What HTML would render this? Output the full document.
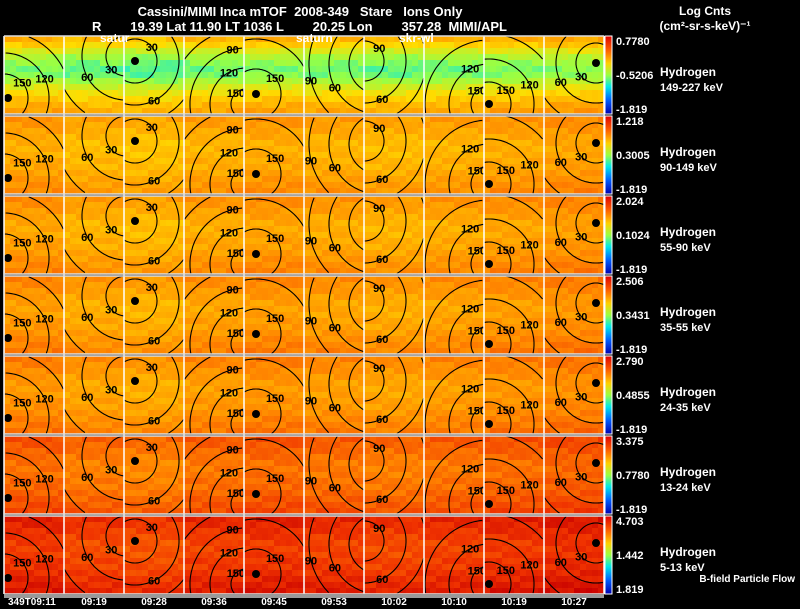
<!DOCTYPE html>
<html><head><meta charset="utf-8"><style>
html,body{margin:0;padding:0;background:#000;width:800px;height:609px;overflow:hidden}
svg{display:block}
svg text{font-family:"Liberation Sans",sans-serif;font-weight:bold;white-space:pre}
</style></head><body>
<svg id="chart" width="800" height="609" xmlns="http://www.w3.org/2000/svg">
<defs>
<linearGradient id="cbar" x1="0" y1="0" x2="0" y2="1">
<stop offset="0" stop-color="#e00000"/><stop offset="0.2" stop-color="#ff6a00"/><stop offset="0.35" stop-color="#ffd000"/><stop offset="0.5" stop-color="#9cff40"/><stop offset="0.65" stop-color="#00e8e8"/><stop offset="0.82" stop-color="#0060ff"/><stop offset="1" stop-color="#0000b0"/>
</linearGradient>
</defs>
<g id="grid"></g>
<g fill="#fff" font-size="13">
<text x="300" y="16" text-anchor="middle">Cassini/MIMI Inca mTOF  2008-349   Stare   Ions Only</text>
<text x="92" y="31">R        19.39 Lat 11.90 LT 1036 L        20.25 Lon        357.28  MIMI/APL</text>
<text x="705" y="15" text-anchor="middle" font-size="12">Log Cnts</text>
<text x="705" y="30" text-anchor="middle" font-size="12">(cm²-sr-s-keV)⁻¹</text>
<text x="100" y="42" font-size="12">satur</text>
<text x="296" y="42" font-size="12">saturn</text>
<text x="399" y="42" font-size="12">skr-wl</text>
<text x="795" y="582" font-size="10" text-anchor="end">B-field Particle Flow</text>
</g>
</svg>
<script>
const rowTops=[36,116,196,276,356,436,516];
const colTimes=["349T09:11","09:19","09:28","09:36","09:45","09:53","10:02","10:10","10:19","10:27"];
const cbTop=["0.7780","1.218","2.024","2.506","2.790","3.375","4.703"];
const cbMid=["-0.5206","0.3005","0.1024","0.3431","0.4855","0.7780","1.442"];
const cbBot=["-1.819","-1.819","-1.819","-1.819","-1.819","-1.819","1.819"];
const energies=["149-227 keV","90-149 keV","55-90 keV","35-55 keV","24-35 keV","13-24 keV","5-13 keV"];
const rowBase=[0.0,0.79,0.8,0.81,0.82,0.87,0.93];
const row0Profile=[0.77,0.73,0.67,0.62,0.59,0.57,0.58,0.62,0.67,0.71,0.74,0.77,0.79];
const rowProfile=[0.02,0.01,0,-0.01,-0.02,-0.02,-0.02,-0.01,-0.01,0,0.01,0.02,0.03];
const colOffset=[0.01,-0.01,-0.02,0,0.01,0,-0.01,0,0.01,0.02];
const texture=[0.02,-0.03,0.01,0.03,-0.02,0,0.02,-0.03,0.02,-0.01,0.03,-0.02,0.01];
const contours=[
 [0,62,[24,45,66],["150","120","90"]],
 [62,20,[20,44,70],["30","60","90"]],
 [11,25,[22,44,62],["30","60","90"]],
 [62,68,[15,36,56,76],["150","120","90","60"]],
 [12,58,[25,55],["150","120"]],
 [75,28,[30,50,70],["90","60","90"]],
 [0,25,[20,42,62],["90","60","90"]],
 [65,68,[18,40,64],["150","120","90"]],
 [5,68,[22,45,70],["150","120","90"]],
 [52,27,[20,40,62],["30","60","90"]]
];
const NS="http://www.w3.org/2000/svg";
const g=document.getElementById('grid');
const X0=4,PW=60,PH=78,NX=10,NY=13;
function color(t){
 const s=[[0,[0,0,176]],[0.35,[0,96,255]],[0.5,[0,232,232]],[0.6,[150,255,70]],[0.72,[255,220,0]],[0.84,[255,130,0]],[0.93,[240,50,0]],[1,[200,0,0]]];
 t=Math.max(0,Math.min(1,t));
 for(let i=1;i<s.length;i++){if(t<=s[i][0]){const a=s[i-1],b=s[i],f=(t-a[0])/(b[0]-a[0]);return 'rgb('+a[1].map((v,k)=>Math.round(v+(b[1][k]-v)*f)).join(',')+')';}}
 return 'rgb(200,0,0)';
}
function mk(tag,attrs){const e=document.createElementNS(NS,tag);for(const k in attrs)e.setAttribute(k,attrs[k]);return e;}
function arcPath(cx,cy,rad,x0,y0,w,h){
 let d='',prev=false;const N=180;
 for(let i=0;i<=N;i++){
  const a=i/N*2*Math.PI,x=cx+rad*Math.cos(a),y=cy+rad*Math.sin(a);
  const inside=x>=x0&&x<=x0+w&&y>=y0&&y<=y0+h;
  if(inside){d+=(prev?'L':'M')+x.toFixed(1)+' '+y.toFixed(1);}
  prev=inside;
 }
 return d;
}
rowTops.forEach((ry,r)=>{
 for(let c=0;c<10;c++){
  const px=X0+c*PW,py=ry;
  const pg=mk('g',{});
  
  
  const cw=PW/NX,ch=PH/NY;
  for(let j=0;j<NY;j++)for(let i=0;i<NX;i++){
   let v=(r===0?row0Profile[j]:rowBase[r]+rowProfile[j])+colOffset[c]+texture[(i*3+j+c)%13]*0.6;
   const cell=mk('rect',{x:(px+i*cw).toFixed(1),y:(py+j*ch).toFixed(1),width:(cw+0.6).toFixed(1),height:(ch+0.6).toFixed(1),fill:color(v)});
   
   
   pg.appendChild(cell);
  }
  const ct=contours[c];
  ct[2].forEach((rad,k)=>{
   const d=arcPath(px+ct[0],py+ct[1],rad,px,py,PW,PH);
   if(d){
    const p=mk('path',{d:d,fill:'none',stroke:'#000','stroke-width':1.1});
    
    
    pg.appendChild(p);
   }
   const ang=(c%2?2.4:-0.7)+k*0.25;
   let lx=px+ct[0]+rad*Math.cos(ang),ly=py+ct[1]+rad*Math.sin(ang);
   if(lx<px+3||lx>px+PW-10||ly<py+8||ly>py+PH-2){lx=px+ct[0]+rad*Math.cos(ang+Math.PI/2);ly=py+ct[1]+rad*Math.sin(ang+Math.PI/2);}
   if(lx>=px+6&&lx<=px+PW-6&&ly>=py+6&&ly<=py+PH-6){
    const t=mk('text',{x:lx,y:ly+4,'font-size':11,fill:'#000','text-anchor':'middle'});
    
    
    t.textContent=ct[3][k];pg.appendChild(t);
   }
  });
  if([0,2,4,8,9].includes(c)){
   const dx=Math.max(px+4,Math.min(px+PW-4,px+ct[0]));
   const d=mk('circle',{cx:dx,cy:py+ct[1],r:4,fill:'#000'});
   
   
   pg.appendChild(d);
  }
  g.appendChild(pg);
 }
 const cb=mk('rect',{x:605,y:ry,width:7,height:PH,fill:'url(#cbar)',stroke:'#fff','stroke-width':1});
 
 
 g.appendChild(cb);
 [[cbTop[r],ry+9],[cbMid[r],ry+PH/2+4],[cbBot[r],ry+PH-1]].forEach((a)=>{
  const t=mk('text',{x:616,y:a[1],'font-size':11,fill:'#fff'});
  
  
  t.textContent=a[0];g.appendChild(t);
 });
 const h=mk('text',{x:660,y:ry+40,'font-size':12,fill:'#fff'});
 
 
 h.textContent='Hydrogen';g.appendChild(h);
 const e=mk('text',{x:660,y:ry+55,'font-size':11,fill:'#fff'});
 
 
 e.textContent=energies[r];g.appendChild(e);
});
for(let c=0;c<=10;c++){const l=mk('line',{x1:X0+c*PW,y1:36,x2:X0+c*PW,y2:594,stroke:'#fff','stroke-width':1.5});g.appendChild(l);}
rowTops.forEach(ry=>{[ry,ry+PH].forEach(y=>{const l=mk('line',{x1:X0,y1:y,x2:604,y2:y,stroke:'#ddd','stroke-width':1.5});g.appendChild(l);});});
const gb=mk('rect',{x:4,y:594,width:600,height:4,fill:'#999'});


g.appendChild(gb);
colTimes.forEach((s,c)=>{
 const t=mk('text',{x:c===0?8:X0+c*PW+30,y:605,'font-size':10,fill:'#fff','text-anchor':c===0?'start':'middle'});
 
 
 t.textContent=s;g.appendChild(t);
});
</script>
</body></html>
